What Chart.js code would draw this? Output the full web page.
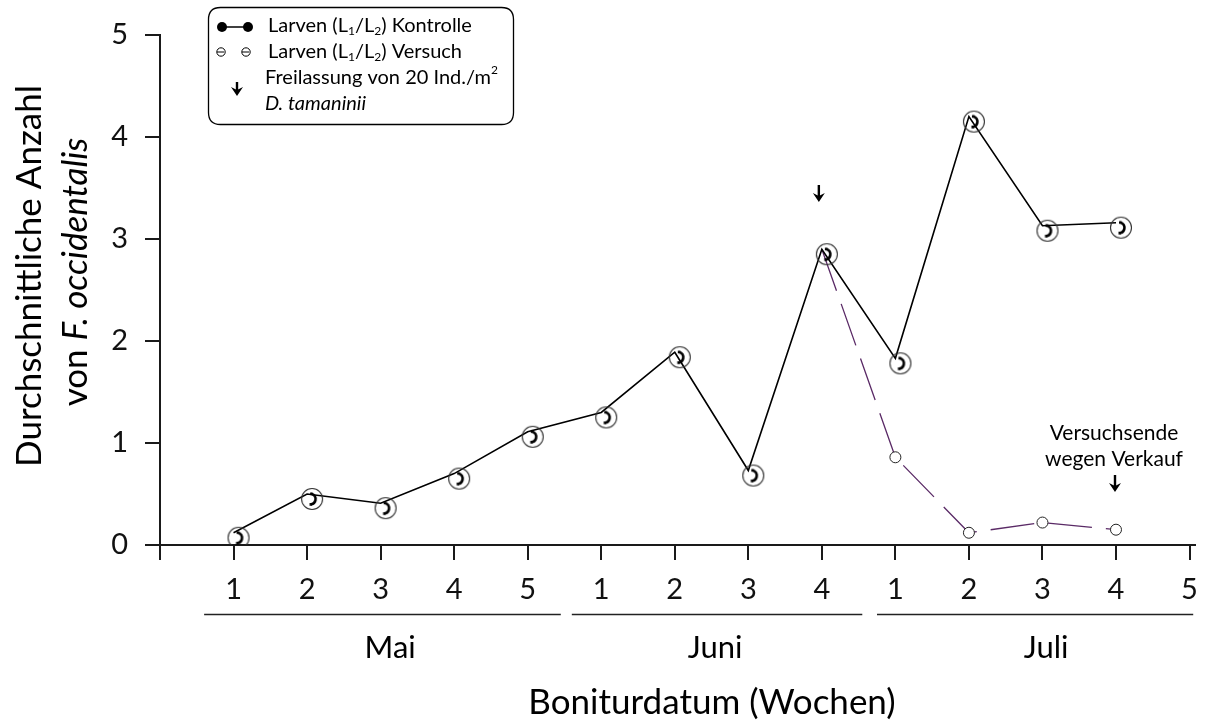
<!DOCTYPE html>
<html>
<head>
<meta charset="utf-8">
<script src="https://cdn.jsdelivr.net/npm/chart.js@4"></script>
<style>
  html, body { margin: 0; padding: 0; background: #fff; }
  #wrap { width: 1210px; height: 725px; position: relative; }
</style>
</head>
<body>
<div id="wrap"><canvas id="c"></canvas></div>
<script>
// ---- data ----
const weekIndex = [1, 2, 3, 4, 5, 6, 7, 8, 9, 10, 11, 12, 13];
const kontrolle = [0.12, 0.50, 0.41, 0.70, 1.11, 1.30, 1.89, 0.73, 2.90, 1.83, 4.20, 3.13, 3.16];
const versuchIndex = [9, 10, 11, 12, 13];
const versuch = [2.90, 0.86, 0.12, 0.22, 0.15];
const xTickLabels = ['', '1', '2', '3', '4', '5', '1', '2', '3', '4', '1', '2', '3', '4', '5'];
const yTicks = [0, 1, 2, 3, 4, 5];
const months = ['Mai', 'Juni', 'Juli'];
const monthSpans = [[0.6, 5.45], [5.6, 9.55], [9.75, 14.05]];
const monthLabelPos = [3.13, 7.55, 12.05];
const releaseWeek = 9;
const endWeek = 13;

const FONT = 'Lato, "Open Sans", sans-serif';
const AX = '#1a1a1a';

// ---- marker for Kontrolle (circle with handset glyph), drawn offset like the original ----
function makeMarker() {
  const c = document.createElement('canvas');
  c.width = 44; c.height = 44;
  const g = c.getContext('2d');
  const cx = 22 + 5, cy = 22 + 5;
  g.beginPath();
  g.arc(cx, cy, 10.5, 0, Math.PI * 2);
  g.strokeStyle = '#333';
  g.lineWidth = 1.1;
  g.stroke();
  g.beginPath();
  g.arc(cx - 2, cy, 5.5, -Math.PI * 0.42, Math.PI * 0.42);
  g.strokeStyle = '#000';
  g.lineWidth = 2.6;
  g.stroke();
  g.fillStyle = '#000';
  g.fillRect(cx - 2, cy - 6.5, 2.5, 2.6);
  g.fillRect(cx - 2.5, cy + 4, 2.5, 2.8);
  return c;
}
const marker = makeMarker();

function drawRich(ctx, parts, x, y, size) {
  let cx = x;
  for (const p of parts) {
    const fs = p.sub || p.sup ? Math.round(size * 0.62) : size;
    ctx.font = (p.italic ? 'italic ' : '') + fs + 'px ' + FONT;
    const dy = p.sub ? size * 0.28 : (p.sup ? -size * 0.38 : 0);
    ctx.fillText(p.t, cx, y + dy);
    cx += ctx.measureText(p.t).width;
  }
  return cx - x;
}
function richWidth(ctx, parts, size) {
  let w = 0;
  for (const p of parts) {
    const fs = p.sub || p.sup ? Math.round(size * 0.62) : size;
    ctx.font = (p.italic ? 'italic ' : '') + fs + 'px ' + FONT;
    w += ctx.measureText(p.t).width;
  }
  return w;
}
function arrow(ctx, x, y1, y2) {
  ctx.save();
  ctx.strokeStyle = '#000';
  ctx.fillStyle = '#000';
  ctx.lineWidth = 2.4;
  ctx.beginPath();
  ctx.moveTo(x, y1);
  ctx.lineTo(x, y2 - 6);
  ctx.stroke();
  ctx.beginPath();
  ctx.moveTo(x - 6, y2 - 9);
  ctx.lineTo(x, y2 - 6);
  ctx.lineTo(x + 6, y2 - 9);
  ctx.lineTo(x, y2);
  ctx.closePath();
  ctx.fill();
  ctx.restore();
}
function roundRect(ctx, x, y, w, h, r) {
  ctx.beginPath();
  ctx.moveTo(x + r, y);
  ctx.lineTo(x + w - r, y);
  ctx.quadraticCurveTo(x + w, y, x + w, y + r);
  ctx.lineTo(x + w, y + h - r);
  ctx.quadraticCurveTo(x + w, y + h, x + w - r, y + h);
  ctx.lineTo(x + r, y + h);
  ctx.quadraticCurveTo(x, y + h, x, y + h - r);
  ctx.lineTo(x, y + r);
  ctx.quadraticCurveTo(x, y, x + r, y);
  ctx.closePath();
}

const annotations = {
  id: 'annotations',
  afterDraw(chart) {
    const ctx = chart.ctx;
    const xs = chart.scales.x;
    ctx.save();
    ctx.fillStyle = '#000';
    ctx.textBaseline = 'middle';

    // month underlines and labels
    ctx.strokeStyle = '#222';
    ctx.lineWidth = 1.5;
    months.forEach((m, i) => {
      const a = xs.getPixelForValue(monthSpans[i][0]);
      const b = xs.getPixelForValue(monthSpans[i][1]);
      ctx.beginPath();
      ctx.moveTo(a, 614.5);
      ctx.lineTo(b, 614.5);
      ctx.stroke();
      ctx.font = '31px ' + FONT;
      ctx.textAlign = 'center';
      ctx.fillText(m, xs.getPixelForValue(monthLabelPos[i]), 648);
    });

    // x axis title
    ctx.font = '35px ' + FONT;
    ctx.textAlign = 'center';
    ctx.fillText('Boniturdatum (Wochen)', 712, 703);

    // y axis title (two lines, rotated)
    ctx.save();
    ctx.translate(30, 276);
    ctx.rotate(-Math.PI / 2);
    ctx.font = '35px ' + FONT;
    ctx.textAlign = 'center';
    ctx.fillText('Durchschnittliche Anzahl', 0, 0);
    ctx.restore();
    ctx.save();
    ctx.translate(76, 272);
    ctx.rotate(-Math.PI / 2);
    ctx.textAlign = 'left';
    const l2 = [{ t: 'von ' }, { t: 'F. occidentalis', italic: true }];
    const w2 = richWidth(ctx, l2, 35);
    drawRich(ctx, l2, -w2 / 2, 0, 35);
    ctx.restore();

    // release arrow
    const rx = xs.getPixelForValue(releaseWeek) - 3;
    arrow(ctx, rx, 185, 202);

    // end of trial
    const ex = xs.getPixelForValue(endWeek);
    ctx.font = '21px ' + FONT;
    ctx.textAlign = 'center';
    ctx.fillText('Versuchsende', ex - 2, 433);
    ctx.fillText('wegen Verkauf', ex - 2, 459);
    arrow(ctx, ex - 1, 475, 492);

    // legend box
    ctx.strokeStyle = '#000';
    ctx.lineWidth = 1.3;
    roundRect(ctx, 208.5, 7.5, 305, 117, 12);
    ctx.fillStyle = '#fff';
    ctx.fill();
    ctx.stroke();
    ctx.fillStyle = '#000';

    // row 1: filled circles with line
    ctx.beginPath();
    ctx.moveTo(222, 27); ctx.lineTo(248, 27);
    ctx.lineWidth = 1.5; ctx.stroke();
    [222, 248].forEach(x => { ctx.beginPath(); ctx.arc(x, 27, 5, 0, Math.PI * 2); ctx.fill(); });
    // row 2: small open circles
    ctx.lineWidth = 1;
    [221, 246].forEach(x => {
      ctx.beginPath(); ctx.arc(x, 52, 4.2, 0, Math.PI * 2); ctx.stroke();
      ctx.beginPath(); ctx.moveTo(x - 4, 52); ctx.lineTo(x + 3, 52); ctx.stroke();
    });
    // row 3: arrow
    arrow(ctx, 237, 82, 96);

    ctx.textAlign = 'left';
    const fs = 20;
    drawRich(ctx, [{ t: 'Larven (L' }, { t: '1', sub: true }, { t: '/L' }, { t: '2', sub: true }, { t: ') Kontrolle' }], 268, 26, fs);
    drawRich(ctx, [{ t: 'Larven (L' }, { t: '1', sub: true }, { t: '/L' }, { t: '2', sub: true }, { t: ') Versuch' }], 268, 52, fs);
    drawRich(ctx, [{ t: 'Freilassung von 20 Ind./m' }, { t: '2', sup: true }], 265, 78, fs);
    drawRich(ctx, [{ t: 'D. tamaninii', italic: true }], 265, 104, fs);

    ctx.restore();
  }
};

new Chart(document.getElementById('c'), {
  type: 'line',
  data: {
    datasets: [
      {
        label: 'Larven (L1/L2) Kontrolle',
        data: weekIndex.map((w, i) => ({ x: w, y: kontrolle[i] })),
        borderColor: '#000',
        borderWidth: 1.6,
        pointStyle: marker,
        pointRadius: 10,
        tension: 0,
        order: 0
      },
      {
        label: 'Larven (L1/L2) Versuch',
        data: versuchIndex.map((w, i) => ({ x: w, y: versuch[i] })),
        borderColor: '#5a2a66',
        borderWidth: 1.3,
        borderDash: [44, 14],
        pointRadius: versuchIndex.map((w, i) => (i === 0 ? 0 : 5.5)),
        pointBackgroundColor: '#fff',
        pointBorderColor: '#222',
        pointBorderWidth: 1,
        tension: 0,
        order: 1
      }
    ]
  },
  options: {
    responsive: true,
    maintainAspectRatio: false,
    animation: false,
    layout: { padding: { top: 35, right: 10, left: 0, bottom: 0 } },
    plugins: { legend: { display: false }, tooltip: { enabled: false } },
    scales: {
      x: {
        type: 'linear',
        min: 0,
        max: 14.07,
        afterBuildTicks: (s) => { s.ticks = xTickLabels.map((t, i) => ({ value: i })); },
        afterFit: (s) => { s.height = 180; },
        ticks: {
          autoSkip: false,
          maxRotation: 0,
          padding: 12,
          color: '#111',
          font: { family: FONT, size: 29 },
          callback: (v) => xTickLabels[v] ?? ''
        },
        grid: { drawOnChartArea: false, drawTicks: true, tickLength: 15, color: AX, lineWidth: 2 },
        border: { color: AX, width: 2 }
      },
      y: {
        min: 0,
        max: 5,
        afterBuildTicks: (s) => { s.ticks = yTicks.map(v => ({ value: v })); },
        afterFit: (s) => { s.width = 160; },
        ticks: {
          padding: 17,
          color: '#111',
          font: { family: FONT, size: 29 },
          callback: (v) => String(v)
        },
        grid: { drawOnChartArea: false, drawTicks: true, tickLength: 15, color: AX, lineWidth: 2 },
        border: { color: AX, width: 2 }
      }
    }
  },
  plugins: [annotations]
});
</script>
</body>
</html>
